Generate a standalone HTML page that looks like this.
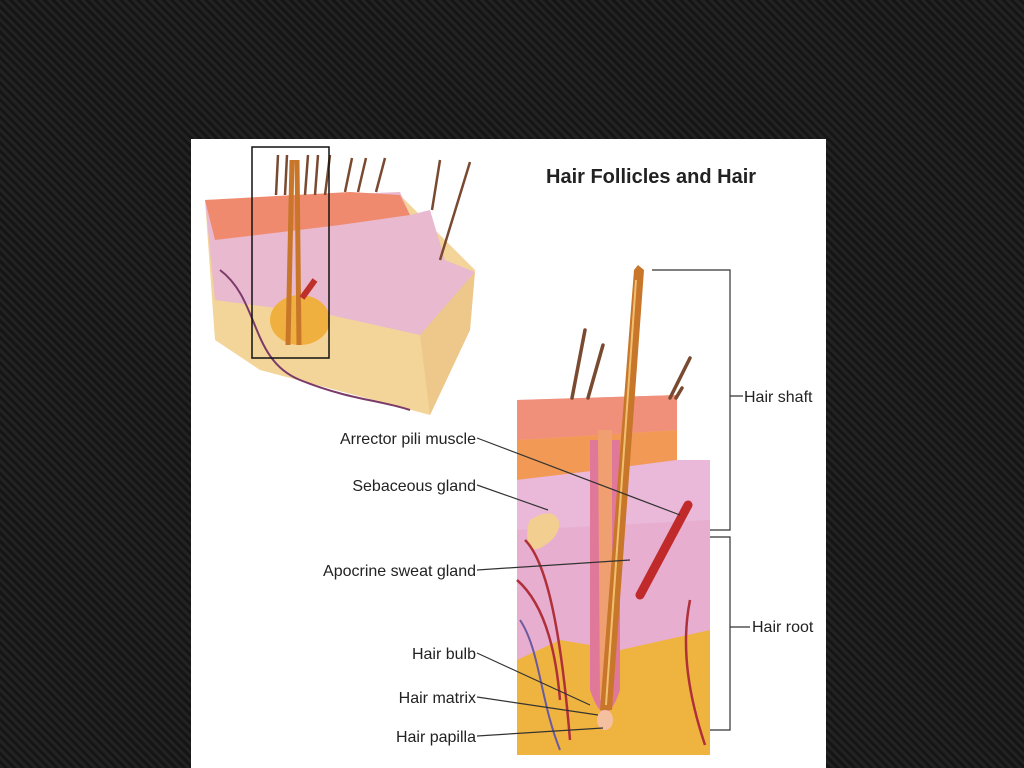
<!DOCTYPE html>
<html><head><meta charset="utf-8"><style>
html,body{margin:0;padding:0;width:1024px;height:768px;overflow:hidden;background:#1c1c1c;}
body{background:repeating-linear-gradient(45deg,#222 0 3px,#151515 3px 6px);}
svg{position:absolute;left:0;top:0}
text{font-family:"Liberation Sans",sans-serif;fill:#222}
</style></head><body>
<svg width="1024" height="768" viewBox="0 0 1024 768">
<rect x="191" y="139" width="635" height="629" fill="#fff"/>
<text x="546" y="183" font-size="20" font-weight="bold">Hair Follicles and Hair</text>

<!-- small block -->
<polygon points="205,200 400,195 475,270 470,330 430,415 260,370 215,340" fill="#f3d59a"/>
<polygon points="205,200 400,192 410,215 430,210 445,260 475,272 460,310 420,335 330,315 215,300" fill="#e9b9cf"/>
<polygon points="205,200 350,192 400,195 410,215 340,225 215,240" fill="#f08a6e"/>
<polygon points="420,335 475,272 470,330 430,415" fill="#eec88a"/>
<ellipse cx="300" cy="320" rx="30" ry="25" fill="#f0b040"/>
<path d="M292,160 L288,345 M297,160 L299,345" stroke="#c8762a" stroke-width="5"/>
<path d="M315,280 L302,298" stroke="#c0302a" stroke-width="6"/>
<path d="M220,270 C260,300 250,360 300,380 S380,400 410,410" stroke="#7a3a6a" stroke-width="2" fill="none"/>
<g stroke="#7a4a30" stroke-width="2.5">
<path d="M276,195 L278,155 M285,195 L287,155 M305,195 L308,155 M315,195 L318,155 M325,195 L330,155 M345,192 L352,158 M358,192 L366,158 M376,192 L385,158 M432,210 L440,160 M440,260 L470,162"/>
</g>
<rect x="252" y="147" width="77" height="211" fill="none" stroke="#111" stroke-width="1.5"/>

<!-- large block -->
<polygon points="517,400 677,395 677,460 710,460 710,755 517,755" fill="#e8aed0"/>
<polygon points="517,400 677,395 677,430 517,440" fill="#f0907a"/>
<polygon points="517,440 677,430 677,460 600,470 517,480" fill="#f29a55"/>
<polygon points="517,480 600,470 677,460 710,460 710,520 517,530" fill="#eab8d8"/>
<polygon points="517,660 560,640 620,650 710,630 710,755 517,755" fill="#efb440"/>
<path d="M530,520 C560,500 570,530 545,545 C525,560 525,530 530,520Z" fill="#f2cf90"/>
<path d="M517,580 C540,600 555,640 560,700 M525,540 C545,560 560,620 570,740 M690,600 C680,650 690,700 705,745" stroke="#b0303a" stroke-width="2.5" fill="none"/>
<path d="M520,620 C540,650 540,700 560,750" stroke="#6a5aa0" stroke-width="2" fill="none"/>
<path d="M590,440 L590,690 Q605,735 620,690 L620,440Z" fill="#e0789a"/>
<path d="M598,430 L600,700 L612,700 L612,430Z" fill="#f0a070"/>
<path d="M634,270 L638,265 L644,270 L612,710 L600,710Z" fill="#c8762a"/>
<path d="M636,280 L606,705" stroke="#f0c070" stroke-width="2"/>
<ellipse cx="605" cy="720" rx="8" ry="10" fill="#f5c0a0"/>
<path d="M688,505 L640,595" stroke="#c02a2a" stroke-width="9" stroke-linecap="round"/>
<g stroke="#7a4a30" stroke-width="3.5" stroke-linecap="round">
<path d="M572,398 L585,330 M588,398 L603,345 M670,398 L690,358 M676,398 L682,388"/>
</g>

<!-- leader lines -->
<g stroke="#333" stroke-width="1.2" fill="none">
<path d="M477,438 L680,515 M477,485 L548,510 M477,570 L630,560 M477,653 L590,705 M477,697 L598,715 M477,736 L603,728"/>
<path d="M652,270 L730,270 L730,530 L710,530 M730,396 L743,396"/>
<path d="M710,537 L730,537 L730,730 L710,730 M730,627 L750,627"/>
</g>

<g font-size="16">
<text x="476" y="444" text-anchor="end">Arrector pili muscle</text>
<text x="476" y="491" text-anchor="end">Sebaceous gland</text>
<text x="476" y="576" text-anchor="end">Apocrine sweat gland</text>
<text x="476" y="659" text-anchor="end">Hair bulb</text>
<text x="476" y="703" text-anchor="end">Hair matrix</text>
<text x="476" y="742" text-anchor="end">Hair papilla</text>
<text x="744" y="402">Hair shaft</text>
<text x="752" y="632">Hair root</text>
</g>
</svg>
</body></html>
